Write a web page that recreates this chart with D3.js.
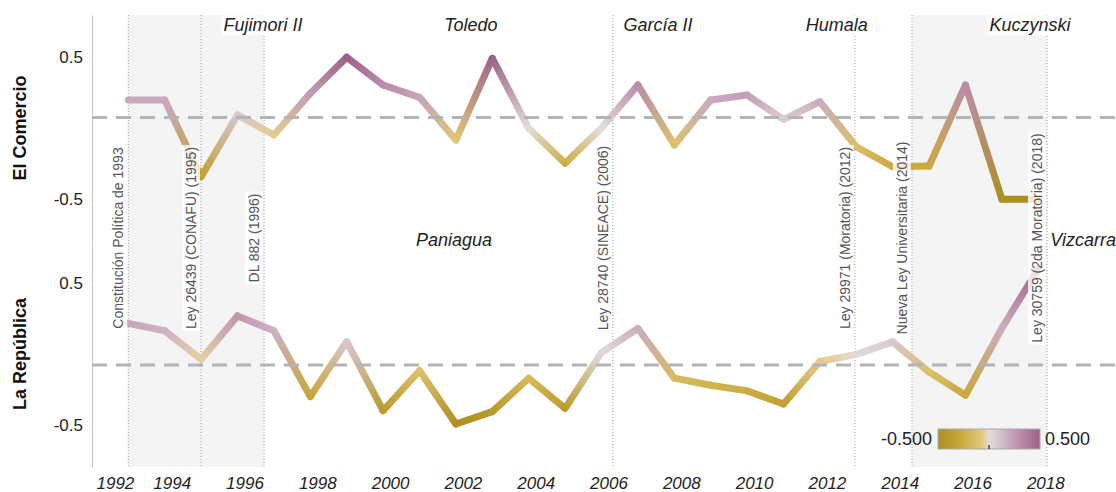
<!DOCTYPE html>
<html>
<head>
<meta charset="utf-8">
<script src="https://cdn.jsdelivr.net/npm/d3@7"></script>
<style>
  body { margin: 0; background: #fff; }
  text { font-family: "Liberation Sans", Arial, sans-serif; }
</style>
</head>
<body>
<svg id="chart" width="1116" height="492"></svg>
<script>
// data
const years = [1993, 1994, 1995, 1996, 1997, 1998, 1999, 2000, 2001, 2002, 2003, 2004, 2005,
               2006, 2007, 2008, 2009, 2010, 2011, 2012, 2013, 2014, 2015, 2016, 2017, 2018];
const elComercio = [0.197, 0.197, -0.343, 0.092, -0.049, 0.244, 0.498, 0.303, 0.216, -0.085, 0.491, -0.002, -0.249,
                    0.0, 0.303, -0.12, 0.197, 0.232, 0.061, 0.185, -0.132, -0.273, -0.268, 0.303, -0.502, -0.502];
const laRepublica = [0.216, 0.164, -0.037, 0.268, 0.164, -0.30, 0.087, -0.399, -0.118, -0.493, -0.406, -0.171, -0.383,
                     0.01, 0.18, -0.17, -0.22, -0.26, -0.352, -0.053, -0.003, 0.085, -0.127, -0.29, 0.183, 0.6];
const papers = ["El Comercio", "La República"];
const averages = [0.074, -0.077];
const tickYears = [1992, 1994, 1996, 1998, 2000, 2002, 2004, 2006, 2008, 2010, 2012, 2014, 2016, 2018];
const valueTicks = [-0.5, 0.5];

const lawYears = [1993.0, 1995.0, 1996.73, 2006.31, 2012.96, 2014.53, 2018.24];
const lawLabels = ["Constitución Política de 1993", "Ley 26439 (CONAFU) (1995)", "DL 882 (1996)",
                   "Ley 28740 (SINEACE) (2006)", "Ley 29971 (Moratoria) (2012)",
                   "Nueva Ley Universitaria (2014)", "Ley 30759 (2da Moratoria) (2018)"];
const bandStarts = [1993.0, 2014.53];
const bandEnds = [1996.73, 2018.24];

const periodNames = ["Fujimori II", "Toledo", "García II", "Humala", "Kuczynski", "Paniagua", "Vizcarra"];
const periodYears = [1996.7, 2002.41, 2007.55, 2012.46, 2017.77, 2001.95, 2018.33];
const periodRow = [0, 0, 0, 0, 0, 1, 1];
const periodAnchor = ["middle", "middle", "middle", "middle", "middle", "middle", "start"];

const svg = d3.select("#chart");
const paneLeft = 92, paneTop = 15, paneH = 226, paneRight = 1116;

const x = d3.scaleLinear().domain([1993, 2018]).range([128.3, 1038.3]);
const yScales = [
  d3.scaleLinear().domain([-0.796, 0.796]).range([paneTop + paneH, paneTop]),
  d3.scaleLinear().domain([-0.796, 0.796]).range([paneTop + 2 * paneH, paneTop + paneH])
];

const color = d3.scaleLinear()
  .domain([-0.5, -0.3, -0.06, 0, 0.1, 0.3, 0.5])
  .range(["#ad8f22", "#c6a637", "#e3ca7e", "#e2dcda", "#d6c3cf", "#bb8dab", "#9d6188"])
  .clamp(true);

const defs = svg.append("defs");

// shaded bands
svg.append("g").selectAll("rect")
  .data(bandStarts)
  .join("rect")
  .attr("x", d => x(d))
  .attr("y", paneTop)
  .attr("width", (d, i) => x(bandEnds[i]) - x(d))
  .attr("height", 2 * paneH)
  .attr("fill", "#f4f4f4");

// law reference lines
svg.append("g").selectAll("line")
  .data(lawYears)
  .join("line")
  .attr("x1", d => x(d)).attr("x2", d => x(d))
  .attr("y1", paneTop).attr("y2", paneTop + 2 * paneH)
  .attr("stroke", "#a0a0a0")
  .attr("stroke-width", 1)
  .attr("stroke-dasharray", "1,2");

// axes
const xAxis = svg.append("g")
  .attr("transform", "translate(0," + (paneTop + 2 * paneH) + ")")
  .call(d3.axisBottom(x).tickValues(tickYears).tickFormat(d3.format("d")).tickSize(0).tickPadding(10));
xAxis.select(".domain").remove();
xAxis.selectAll("text")
  .attr("font-size", 17)
  .attr("font-style", "italic")
  .attr("fill", "#222")
  .attr("dx", 7);
// keep first label inside the pane like the original
xAxis.selectAll("text").each(function (d) {
  const t = d3.select(this);
  const w = this.getComputedTextLength();
  const cx = x(d) + 7;
  if (cx - w / 2 < paneLeft + 4) t.attr("dx", paneLeft + 4 + w / 2 - x(d));
});

yScales.forEach((y, i) => {
  const g = svg.append("g")
    .attr("transform", "translate(" + paneLeft + ",0)")
    .call(d3.axisLeft(y).tickValues(valueTicks).tickFormat(d => d.toFixed(1)).tickSize(0).tickSizeOuter(0).tickPadding(9));
  g.select(".domain").attr("stroke", "#c4c4c4");
  g.selectAll("text").attr("font-size", 17).attr("fill", "#222");

  svg.append("text")
    .attr("transform", "translate(20," + (y(0)) + ") rotate(-90)")
    .attr("text-anchor", "middle")
    .attr("dy", "0.35em")
    .attr("font-size", 18)
    .attr("font-weight", "bold")
    .attr("fill", "#111")
    .text(papers[i]);
});

// colored lines, one gradient per segment
const series = [elComercio, laRepublica];
series.forEach((vals, s) => {
  const y = yScales[s];
  const pts = years.map((yr, i) => [x(yr), y(vals[i]), vals[i]]);
  const segs = d3.pairs(pts);
  segs.forEach((p, i) => {
    const gr = defs.append("linearGradient")
      .attr("id", "seg" + s + "_" + i)
      .attr("gradientUnits", "userSpaceOnUse")
      .attr("x1", p[0][0]).attr("y1", p[0][1])
      .attr("x2", p[1][0]).attr("y2", p[1][1]);
    gr.append("stop").attr("offset", 0).attr("stop-color", color(p[0][2]));
    gr.append("stop").attr("offset", 1).attr("stop-color", color(p[1][2]));
  });
  svg.append("g").selectAll("line")
    .data(segs)
    .join("line")
    .attr("x1", d => d[0][0]).attr("y1", d => d[0][1])
    .attr("x2", d => d[1][0]).attr("y2", d => d[1][1])
    .attr("stroke", (d, i) => "url(#seg" + s + "_" + i + ")")
    .attr("stroke-width", 7)
    .attr("stroke-linecap", "round");
});

// average reference lines
svg.append("g").selectAll("line")
  .data(averages)
  .join("line")
  .attr("x1", paneLeft).attr("x2", paneRight)
  .attr("y1", (d, i) => yScales[i](d))
  .attr("y2", (d, i) => yScales[i](d))
  .attr("stroke", "#b4b4b4")
  .attr("stroke-width", 3)
  .attr("stroke-dasharray", "15,9");

// law annotations
const lawG = svg.append("g").selectAll("g")
  .data(lawLabels)
  .join("g")
  .attr("transform", (d, i) => "translate(" + (x(lawYears[i]) - 10) + "," + 238 + ") rotate(-90)");
lawG.append("text")
  .attr("text-anchor", "middle")
  .attr("dy", "0.35em")
  .attr("font-size", 14)
  .attr("fill", "#555")
  .text(d => d);
lawG.each(function () {
  const g = d3.select(this);
  const b = g.select("text").node().getBBox();
  g.insert("rect", "text")
    .attr("x", b.x - 2).attr("y", b.y - 1)
    .attr("width", b.width + 4).attr("height", b.height + 2)
    .attr("fill", "#fff").attr("fill-opacity", 0.8);
});

// period annotations
const perG = svg.append("g").selectAll("g")
  .data(periodNames)
  .join("g")
  .attr("transform", (d, i) => "translate(" + x(periodYears[i]) + "," + (periodRow[i] === 0 ? 25 : 240) + ")");
perG.append("text")
  .attr("text-anchor", (d, i) => periodAnchor[i])
  .attr("dy", "0.35em")
  .attr("font-size", 18)
  .attr("font-style", "italic")
  .attr("fill", "#222")
  .text(d => d);
perG.each(function () {
  const g = d3.select(this);
  const b = g.select("text").node().getBBox();
  g.insert("rect", "text")
    .attr("x", b.x - 2).attr("y", b.y)
    .attr("width", b.width + 4).attr("height", b.height)
    .attr("fill", "#fff").attr("fill-opacity", 0.85);
});

// colour legend
const legX = d3.scaleLinear().domain([-0.5, 0.5]).range([938, 1040]);
const lg = defs.append("linearGradient").attr("id", "legendGrad");
d3.range(0, 1.0001, 0.05).forEach(t => {
  lg.append("stop").attr("offset", t).attr("stop-color", color(-0.5 + t));
});
const leg = svg.append("g");
leg.append("rect")
  .attr("x", legX(-0.5)).attr("y", 429)
  .attr("width", legX(0.5) - legX(-0.5)).attr("height", 20)
  .attr("fill", "url(#legendGrad)")
  .attr("stroke", "#aaa");
leg.append("line")
  .attr("x1", legX(0)).attr("x2", legX(0))
  .attr("y1", 445).attr("y2", 449)
  .attr("stroke", "#000");
leg.append("text")
  .attr("x", legX(-0.5) - 6).attr("y", 439).attr("dy", "0.35em")
  .attr("text-anchor", "end").attr("font-size", 18).attr("fill", "#222")
  .text((-0.5).toFixed(3));
leg.append("text")
  .attr("x", legX(0.5) + 5).attr("y", 439).attr("dy", "0.35em")
  .attr("text-anchor", "start").attr("font-size", 18).attr("fill", "#222")
  .text((0.5).toFixed(3));
</script>
</body>
</html>
